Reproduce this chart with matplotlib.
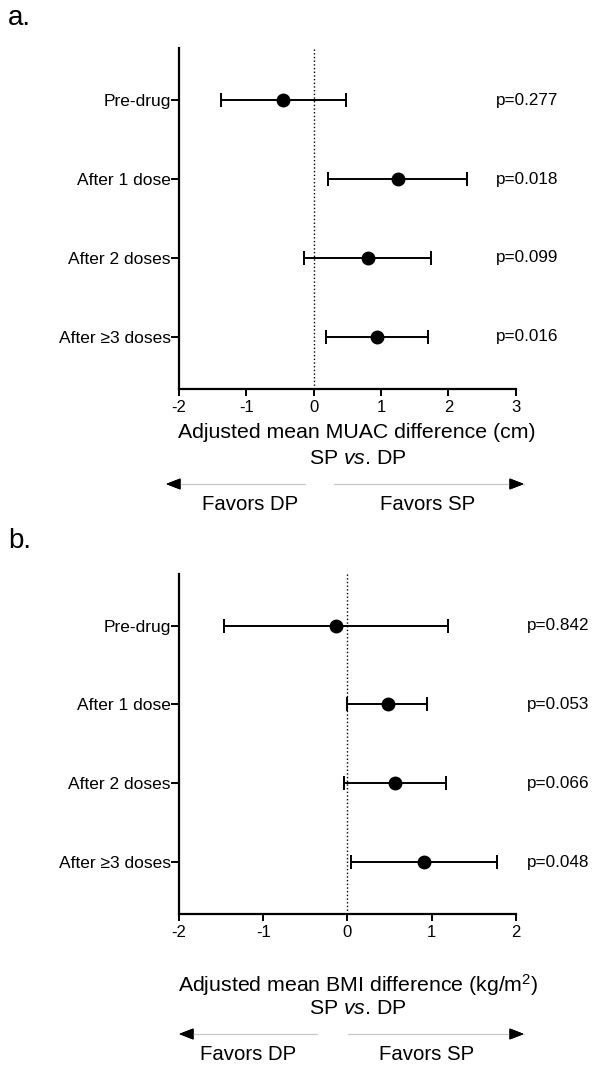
import numpy as np
import matplotlib.pyplot as plt
from matplotlib.lines import Line2D
from matplotlib.transforms import blended_transform_factory

plt.rcParams['font.family'] = ['Liberation Sans', 'DejaVu Sans']
plt.rcParams['mathtext.fontset'] = 'custom'
plt.rcParams['mathtext.rm'] = 'Liberation Sans'
plt.rcParams['mathtext.it'] = 'Liberation Sans:italic'

# data
rows = ['Pre-drug', 'After 1 dose', 'After 2 doses', 'After \u22653 doses']

muac_mean = np.array([-0.45, 1.25, 0.80, 0.94])
muac_lo = np.array([-1.38, 0.22, -0.15, 0.18])
muac_hi = np.array([0.48, 2.28, 1.74, 1.70])
muac_p = ['p=0.277', 'p=0.018', 'p=0.099', 'p=0.016']

bmi_mean = np.array([-0.13, 0.48, 0.57, 0.91])
bmi_lo = np.array([-1.47, 0.00, -0.04, 0.04])
bmi_hi = np.array([1.20, 0.95, 1.17, 1.78])
bmi_p = ['p=0.842', 'p=0.053', 'p=0.066', 'p=0.048']

W, H = 592, 1066
fig = plt.figure(figsize=(W/100, H/100), dpi=100)

def px(x, y):
    # pixel position -> figure fraction
    return (x / W, 1 - y / H)

def forest(ax, mean, lo, hi, pvals, xmin, xmax, p_x):
    ypos = np.arange(1, len(rows) + 1)
    ax.errorbar(mean, ypos, xerr=[mean - lo, hi - mean], fmt='o', color='black',
                ms=9, capsize=5, elinewidth=1.4, capthick=1.4, zorder=3)
    ax.axvline(0, color='black', ls=':', lw=1, zorder=1)
    ax.set_ylim(len(rows) + 0.66, 0.34)
    ax.set_yticks(ypos)
    ax.set_yticklabels(rows, fontsize=12.5)
    ax.set_xlim(xmin, xmax)
    ax.set_xticks(np.arange(xmin, xmax + 1))
    ax.set_xticklabels([str(v) for v in np.arange(xmin, xmax + 1)], fontsize=12)
    for s in ['top', 'right']:
        ax.spines[s].set_visible(False)
    for s in ['left', 'bottom']:
        ax.spines[s].set_linewidth(1.6)
    ax.tick_params(axis='y', direction='out', length=6, width=1.4, pad=0)
    ax.tick_params(axis='x', direction='out', length=5, width=1.4, pad=3)
    trans = blended_transform_factory(fig.transFigure, ax.transData)
    for y, p in zip(ypos, pvals):
        ax.text(p_x / W, y, p, transform=trans, fontsize=12.3, va='center', ha='left')

def favors(y_arrow, left_line, right_line, y_text, cx_dp, cx_sp):
    for x0, x1, tip in [(left_line[0], left_line[1], left_line[0]),
                        (right_line[0], right_line[1], right_line[1])]:
        fig.add_artist(Line2D([x0 / W, x1 / W], [1 - y_arrow / H] * 2,
                              color='#c8c8c8', lw=0.9, transform=fig.transFigure))
        back = tip + 13 if tip == x0 else tip - 13
        fig.add_artist(plt.annotate('', xy=px(tip, y_arrow), xytext=px(back, y_arrow),
                                    xycoords='figure fraction', textcoords='figure fraction',
                                    arrowprops=dict(arrowstyle='-|>,head_length=0.9,head_width=0.35',
                                                    color='black', lw=0.8,
                                                    shrinkA=0, shrinkB=0)))
    fig.text(*px(cx_dp, y_text), 'Favors DP', fontsize=14.7, ha='center', va='center')
    fig.text(*px(cx_sp, y_text), 'Favors SP', fontsize=14.7, ha='center', va='center')

# panel a
ax_a = fig.add_axes([179/W, 1 - 389/H, 336.7/W, 341/H])
forest(ax_a, muac_mean, muac_lo, muac_hi, muac_p, -2, 3, 496)
fig.text(*px(8, 18), 'a.', fontsize=20, ha='left', va='center')
fig.text(*px(357, 433), 'Adjusted mean MUAC difference (cm)', fontsize=15.3, ha='center', va='center')
fig.text(*px(358, 458), r'SP $\mathit{vs}$. DP', fontsize=15.3, ha='center', va='center')
favors(484, (166, 305), (334, 524), 505, 250, 428)

# panel b
ax_b = fig.add_axes([179/W, 1 - 914/H, 336.7/W, 340.3/H])
forest(ax_b, bmi_mean, bmi_lo, bmi_hi, bmi_p, -2, 2, 527)
fig.text(*px(8, 541), 'b.', fontsize=20, ha='left', va='center')
fig.text(*px(358, 985), r'Adjusted mean BMI difference (kg/m$^2$)', fontsize=15.3, ha='center', va='center')
fig.text(*px(358, 1008), r'SP $\mathit{vs}$. DP', fontsize=15.3, ha='center', va='center')
favors(1034, (179, 317), (348, 524), 1055, 248, 427)

fig.savefig('out.png', dpi=100)
